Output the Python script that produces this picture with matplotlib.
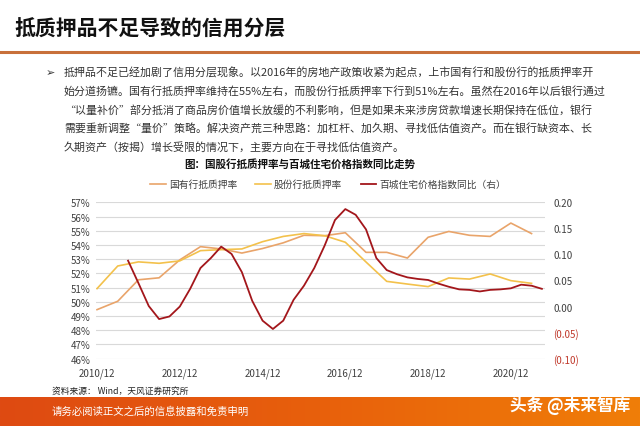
import matplotlib
matplotlib.use("Agg")
import matplotlib.pyplot as plt
from matplotlib.ticker import FuncFormatter
from matplotlib.colors import LinearSegmentedColormap
import numpy as np

plt.rcParams['font.family'] = ['Noto Sans CJK SC', 'DejaVu Sans']

# ---------------- data ----------------
semi_dates = ["2010/12", "2011/6", "2011/12", "2012/6", "2012/12", "2013/6", "2013/12",
              "2014/6", "2014/12", "2015/6", "2015/12", "2016/6", "2016/12", "2017/6",
              "2017/12", "2018/6", "2018/12", "2019/6", "2019/12", "2020/6", "2020/12", "2021/6"]
state_banks = [49.45, 50.04, 51.55, 51.69, 52.95, 53.88, 53.72, 53.43, 53.75, 54.15, 54.68,
               54.65, 54.86, 53.48, 53.48, 53.08, 54.54, 54.95, 54.68, 54.60, 55.54, 54.80]
joint_banks = [50.93, 52.52, 52.81, 52.71, 52.88, 53.60, 53.67, 53.72, 54.23, 54.60, 54.80,
               54.65, 54.19, 52.80, 51.44, 51.25, 51.07, 51.68, 51.60, 51.96, 51.49, 51.30]

quarter_dates = ["2011/9", "2011/12", "2012/3", "2012/6", "2012/9", "2012/12", "2013/3",
                 "2013/6", "2013/9", "2013/12", "2014/3", "2014/6", "2014/9", "2014/12",
                 "2015/3", "2015/6", "2015/9", "2015/12", "2016/3", "2016/6", "2016/9",
                 "2016/12", "2017/3", "2017/6", "2017/9", "2017/12", "2018/3", "2018/6",
                 "2018/9", "2018/12", "2019/3", "2019/6", "2019/9", "2019/12", "2020/3",
                 "2020/6", "2020/9", "2020/12", "2021/3", "2021/6", "2021/9"]
house_yoy = [0.088, 0.045, 0.001, -0.024, -0.019, 0.000, 0.034, 0.074, 0.093, 0.115, 0.101,
             0.066, 0.011, -0.027, -0.043, -0.027, 0.013, 0.040, 0.074, 0.117, 0.166, 0.187,
             0.176, 0.148, 0.093, 0.070, 0.062, 0.056, 0.053, 0.051, 0.044, 0.038, 0.033,
             0.032, 0.029, 0.032, 0.033, 0.035, 0.042, 0.040, 0.034]

xtick_labels = ["2010/12", "2012/12", "2014/12", "2016/12", "2018/12", "2020/12"]
series_names = ["国有行抵质押率", "股份行抵质押率", "百城住宅价格指数同比（右）"]


def qidx(s):
    y, m = s.split("/")
    return (int(y) - 2010) * 4 + (int(m) - 12) / 3.0


# ---------------- figure ----------------
fig = plt.figure(figsize=(6.4, 4.27), dpi=100)

# header
fig.text(14 / 640, 1 - 29 / 427, "抵质押品不足导致的信用分层", fontsize=15, fontweight='bold',
         color='#111111', va='center', ha='left')
fig.add_artist(plt.Line2D([0, 1], [1 - 52.5 / 427] * 2, color='#C8703A', lw=2.2,
                          transform=fig.transFigure))

# bullet paragraph
lines = [
    "抵押品不足已经加剧了信用分层现象。以2016年的房地产政策收紧为起点，上市国有行和股份行的抵质押率开",
    "始分道扬镳。国有行抵质押率维持在55%左右，而股份行抵质押率下行到51%左右。虽然在2016年以后银行通过",
    "“以量补价”部分抵消了商品房价值增长放缓的不利影响，但是如果未来涉房贷款增速长期保持在低位，银行",
    "需要重新调整“量价”策略。解决资产荒三种思路：加杠杆、加久期、寻找低估值资产。而在银行缺资本、长",
    "久期资产（按揭）增长受限的情况下，主要方向在于寻找低估值资产。",
]
fig.text(46 / 640, 1 - 73 / 427, "➢", fontsize=8, color='#333333', va='center',
         family='DejaVu Sans')
ys = [73, 91.5, 110, 128.5, 147]
for t, y in zip(lines, ys):
    fig.text(64 / 640, 1 - y / 427, t, fontsize=7.9, color='#333333', va='center', ha='left')

fig.text(300 / 640, 1 - 165 / 427, "图：国股行抵质押率与百城住宅价格指数同比走势", fontsize=7.6,
         fontweight='bold', color='#111111', va='center', ha='center')

# ---------------- chart ----------------
ax = fig.add_axes([96 / 640, 1 - 359.7 / 427, (545 - 96) / 640, (359.7 - 203.3) / 427])
x_semi = [qidx(d) for d in semi_dates]
x_q = [qidx(d) for d in quarter_dates]

c_state = '#E9A46A'
c_joint = '#F3C14B'
c_house = '#A3161B'

l1, = ax.plot(x_semi, state_banks, color=c_state, lw=1.2, label=series_names[0], zorder=3)
l2, = ax.plot(x_semi, joint_banks, color=c_joint, lw=1.2, label=series_names[1], zorder=3)
ax.set_ylim(46, 57)
ax.set_yticks(np.arange(46, 58, 1))
ax.yaxis.set_major_formatter(FuncFormatter(lambda v, p: f"{int(round(v))}%"))
ax.set_xlim(-0.1, 43.3)
ax.set_xticks([qidx(d) for d in xtick_labels])
ax.set_xticklabels(xtick_labels)
ax.grid(axis='y', color='#D9D9D9', lw=0.8)
ax.set_axisbelow(True)
for s in ax.spines.values():
    s.set_visible(False)
ax.tick_params(axis='both', length=0, labelsize=7, colors='#404040', pad=4)
ax.tick_params(axis='x', pad=6)

ax2 = ax.twinx()
l3, = ax2.plot(x_q, house_yoy, color=c_house, lw=1.3, label=series_names[2], zorder=4)
ax2.set_ylim(-0.10, 0.20)
ax2.set_yticks(np.arange(-0.10, 0.2001, 0.05))


def rfmt(v, p):
    if v < -1e-9:
        return f"({abs(v):.2f})"
    return f"{abs(v):.2f}"


ax2.yaxis.set_major_formatter(FuncFormatter(rfmt))
for s in ax2.spines.values():
    s.set_visible(False)
ax2.tick_params(axis='y', length=0, labelsize=7, colors='#404040', pad=6)
for lab, v in zip(ax2.get_yticklabels(), ax2.get_yticks()):
    if v < -1e-9:
        lab.set_color('#C0392B')

fig.legend(handles=[l1, l2, l3], labels=series_names, loc='center',
           bbox_to_anchor=(328 / 640, 1 - 185 / 427), ncol=3, frameon=False,
           fontsize=7, handlelength=1.6, handletextpad=0.3, columnspacing=1.9,
           labelcolor='#404040')

# source
fig.text(52 / 640, 1 - 391.5 / 427, "资料来源： Wind，天风证券研究所", fontsize=6.3,
         color='#222222', va='center', ha='left')

# footer band with gradient
grad = np.linspace(0, 1, 256).reshape(1, -1)
cmap = LinearSegmentedColormap.from_list('band', ['#DE4A12', '#E8600C', '#F07E08'])
bax = fig.add_axes([0, 0, 1, (427 - 398) / 427])
bax.imshow(grad, aspect='auto', cmap=cmap, extent=[0, 1, 0, 1])
bax.set_axis_off()
fig.text(52 / 640, 1 - 412 / 427, "请务必阅读正文之后的信息披露和免责申明", fontsize=7.5,
         color='white', va='center', ha='left')
fig.text(630 / 640, 1 - 406 / 427, "头条 @未来智库", fontsize=12, color='white',
         va='center', ha='right', fontweight='bold')

fig.savefig("out.png", dpi=100)
